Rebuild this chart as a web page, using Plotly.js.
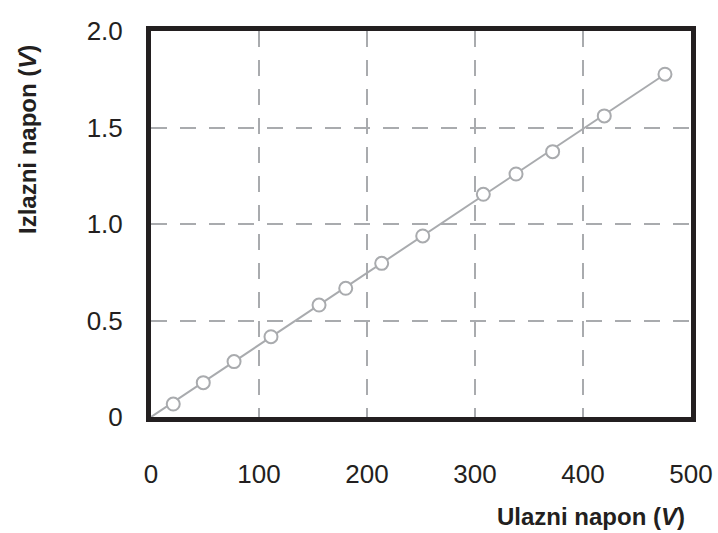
<!DOCTYPE html>
<html>
<head>
<meta charset="utf-8">
<script src="https://cdn.plot.ly/plotly-3.0.1.min.js"></script>
<style>html,body{margin:0;padding:0;background:#fff;}#chart{width:718px;height:533px;}</style>
</head>
<body>
<div id="chart"></div>
<script>
// Measured points: input voltage (V) vs output voltage (V)
const inputVoltage = [20.6, 48.4, 76.9, 111.1, 155.6, 180.3, 213.6, 251.6, 307.7, 338, 371.9, 419.7, 475.9];
const outputVoltage = [0.067, 0.178, 0.287, 0.416, 0.580, 0.667, 0.796, 0.938, 1.154, 1.259, 1.375, 1.560, 1.776];
// Fitted line end points
const fitX = [0, 475.9];
const fitY = [0, 1.776];
const xTickVals = [0, 100, 200, 300, 400, 500];
const xTickText = ['0', '100', '200', '300', '400', '500'];
const yTickVals = [0, 0.5, 1.0, 1.5, 2.0];
const yTickText = ['0', '0.5', '1.0', '1.5', '2.0'];
const xTitle = '<b>Ulazni napon (<i>V</i>)</b>';
const yTitle = '<b>Izlazni napon (<i>V</i>)</b>';

const grey = '#a9abae';
const dark = '#231f20';

const traces = [
  {x: fitX, y: fitY, mode: 'lines', line: {color: grey, width: 2}, hoverinfo: 'skip', cliponaxis: false},
  {x: inputVoltage, y: outputVoltage, mode: 'markers',
   marker: {symbol: 'circle', size: 13, color: '#ffffff', line: {color: grey, width: 2}}, cliponaxis: false}
];

const axisCommon = {
  showline: true, mirror: true, linecolor: dark, linewidth: 5,
  showgrid: true, gridcolor: grey, gridwidth: 2, griddash: '16px,13px',
  zeroline: false, ticks: '', tickmode: 'array',
  tickfont: {family: 'Liberation Sans, Arial, sans-serif', size: 26, color: dark}
};

const layout = {
  width: 718, height: 533,
  margin: {l: 151, r: 27, t: 31, b: 116},
  paper_bgcolor: '#fff', plot_bgcolor: '#fff',
  showlegend: false,
  xaxis: Object.assign({}, axisCommon, {range: [0, 500], tickvals: xTickVals, ticktext: xTickText, ticklabelstandoff: 30}),
  yaxis: Object.assign({}, axisCommon, {range: [0, 2.0], tickvals: yTickVals, ticktext: yTickText, ticklabelstandoff: 18}),
  annotations: [
    {text: xTitle, xref: 'paper', yref: 'paper', x: 0.9926, y: -0.2565, xanchor: 'right', yanchor: 'middle', showarrow: false,
     font: {family: 'Liberation Sans, Arial, sans-serif', size: 24, color: dark}},
    {text: yTitle, xref: 'paper', yref: 'paper', x: -0.2296, y: 0.7176, xanchor: 'center', yanchor: 'middle', textangle: -90, showarrow: false,
     font: {family: 'Liberation Sans, Arial, sans-serif', size: 24, color: dark}}
  ]
};

Plotly.newPlot('chart', traces, layout, {displayModeBar: false, staticPlot: true});
</script>
</body>
</html>
